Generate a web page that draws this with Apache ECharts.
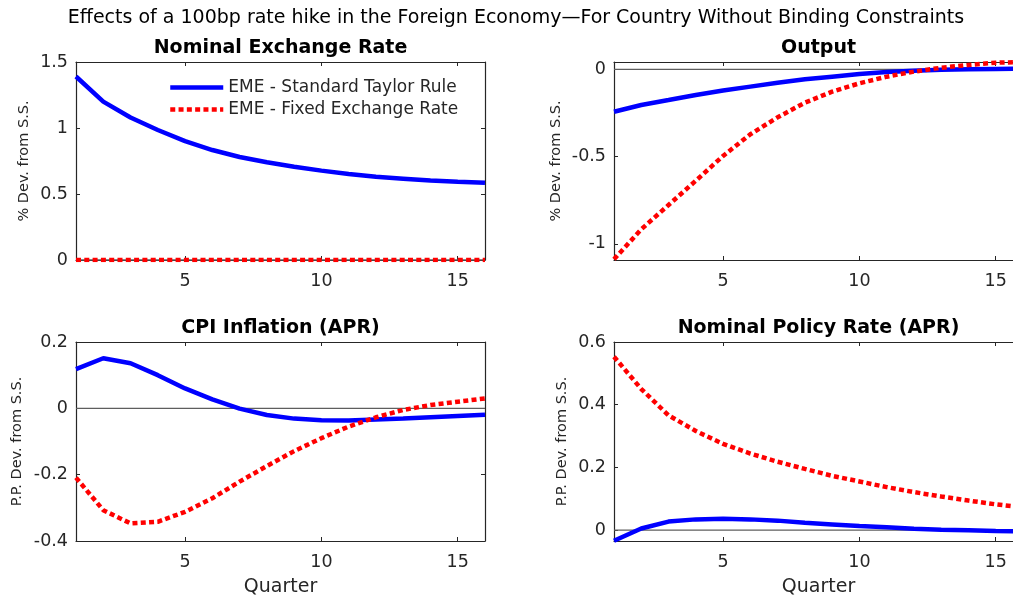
<!DOCTYPE html>
<html>
<head>
<meta charset="utf-8">
<script src="https://cdn.jsdelivr.net/npm/echarts@6/dist/echarts.min.js"></script>
<style>
  html, body { margin: 0; padding: 0; background: #fff; }
  #chart { width: 1013px; height: 596px; }
</style>
</head>
<body>
<div id="chart"></div>
<script>
// Impulse responses, quarters 1..16
const quarters = [1, 2, 3, 4, 5, 6, 7, 8, 9, 10, 11, 12, 13, 14, 15, 16];

// Nominal exchange rate (% dev. from S.S.)
const nerTaylor = [1.39, 1.20, 1.08, 0.985, 0.90, 0.833, 0.78, 0.74, 0.707, 0.677, 0.652, 0.63, 0.616, 0.602, 0.593, 0.585];
const nerFixed  = [0, 0, 0, 0, 0, 0, 0, 0, 0, 0, 0, 0, 0, 0, 0, 0];

// Output (% dev. from S.S.)
const outTaylor = [-0.243, -0.204, -0.176, -0.147, -0.121, -0.099, -0.077, -0.057, -0.042, -0.027, -0.015, -0.008, -0.003, 0.0, 0.002, 0.003];
const outFixed  = [-1.088, -0.916, -0.777, -0.638, -0.496, -0.372, -0.275, -0.191, -0.128, -0.080, -0.042, -0.013, 0.009, 0.025, 0.038, 0.042];

// CPI inflation, APR (p.p. dev. from S.S.)
const cpiTaylor = [0.118, 0.151, 0.136, 0.100, 0.060, 0.027, -0.001, -0.020, -0.031, -0.036, -0.037, -0.034, -0.031, -0.027, -0.023, -0.019];
const cpiFixed  = [-0.209, -0.307, -0.347, -0.342, -0.312, -0.271, -0.221, -0.174, -0.129, -0.090, -0.055, -0.027, -0.005, 0.010, 0.020, 0.030];

// Nominal policy rate, APR (p.p. dev. from S.S.)
const rateTaylor = [-0.034, 0.005, 0.027, 0.034, 0.036, 0.034, 0.030, 0.023, 0.018, 0.013, 0.009, 0.004, 0.001, -0.001, -0.003, -0.004];
const rateFixed  = [0.553, 0.450, 0.366, 0.316, 0.275, 0.244, 0.218, 0.195, 0.173, 0.155, 0.137, 0.121, 0.107, 0.094, 0.082, 0.072];

// Tick labels
const quarterTicks = [5, 10, 15];
const nerTicks = [0, 0.5, 1, 1.5];
const outTicks = [-1, -0.5, 0];
const cpiTicks = [-0.4, -0.2, 0, 0.2];
const rateTicks = [0, 0.2, 0.4, 0.6];

const nameTaylor = 'EME - Standard Taylor Rule';
const nameFixed = 'EME - Fixed Exchange Rate';

const FONT = '"DejaVu Sans", "Liberation Sans", Arial, sans-serif';
const AXIS_COLOR = '#262626';
const DOTS = [5, 3.3];

const panels = [
  { title: 'Nominal Exchange Rate', grid: { left: 76, top: 62, width: 409, height: 198 },
    yMin: 0, yMax: 1.5, ticks: nerTicks, taylor: nerTaylor, fixed: nerFixed,
    yName: '% Dev. from S.S.', yGap: 44, xName: '' },
  { title: 'Output', grid: { left: 614, top: 62, width: 409, height: 198 },
    yMin: -1.092, yMax: 0.042, ticks: outTicks, taylor: outTaylor, fixed: outFixed,
    yName: '% Dev. from S.S.', yGap: 50, xName: '' },
  { title: 'CPI Inflation (APR)', grid: { left: 76, top: 342, width: 409, height: 199 },
    yMin: -0.4, yMax: 0.2, ticks: cpiTicks, taylor: cpiTaylor, fixed: cpiFixed,
    yName: 'P.P. Dev. from S.S.', yGap: 51, xName: 'Quarter' },
  { title: 'Nominal Policy Rate (APR)', grid: { left: 614, top: 342, width: 409, height: 199 },
    yMin: -0.035, yMax: 0.6, ticks: rateTicks, taylor: rateTaylor, fixed: rateFixed,
    yName: 'P.P. Dev. from S.S.', yGap: 44, xName: 'Quarter' }
];

const pairs = (ys) => quarters.map((q, i) => [q, ys[i]]);

const grids = [], xAxes = [], yAxes = [], series = [], graphics = [];

panels.forEach((p, i) => {
  grids.push(Object.assign({ outerBoundsMode: 'none', containLabel: false }, p.grid));

  const tickStyle = { show: true, inside: true, length: 4, lineStyle: { color: AXIS_COLOR, width: 1 } };
  const lineStyle = { show: true, onZero: false, lineStyle: { color: AXIS_COLOR, width: 1.2 } };

  // bottom + top x axes (closed box with ticks on both sides)
  xAxes.push({
    type: 'value', gridIndex: i, min: 1, max: 16, position: 'bottom',
    axisLine: lineStyle,
    axisTick: Object.assign({ customValues: quarterTicks }, tickStyle),
    axisLabel: { customValues: quarterTicks, color: AXIS_COLOR, fontSize: 17.5, fontFamily: FONT, margin: 12 },
    splitLine: { show: false },
    name: p.xName, nameLocation: 'middle', nameGap: 37,
    nameTextStyle: { color: AXIS_COLOR, fontSize: 19, fontFamily: FONT }
  });
  xAxes.push({
    type: 'value', gridIndex: i, min: 1, max: 16, position: 'top',
    axisLine: lineStyle,
    axisTick: Object.assign({ customValues: quarterTicks }, tickStyle),
    axisLabel: { show: false }, splitLine: { show: false }
  });
  // left + right y axes
  yAxes.push({
    type: 'value', gridIndex: i, min: p.yMin, max: p.yMax, position: 'left',
    axisLine: lineStyle,
    axisTick: Object.assign({ customValues: p.ticks }, tickStyle),
    axisLabel: { customValues: p.ticks, color: AXIS_COLOR, fontSize: 17.5, fontFamily: FONT,
                 margin: 8, padding: [4, 0, 0, 0] },
    splitLine: { show: false },
    name: p.yName, nameLocation: 'middle', nameGap: p.yGap,
    nameTextStyle: { color: AXIS_COLOR, fontSize: 14.5, fontFamily: FONT }
  });
  yAxes.push({
    type: 'value', gridIndex: i, min: p.yMin, max: p.yMax, position: 'right',
    axisLine: lineStyle,
    axisTick: Object.assign({ customValues: p.ticks }, tickStyle),
    axisLabel: { show: false }, splitLine: { show: false }
  });

  const xi = i * 2, yi = i * 2;
  // zero reference line
  series.push({
    type: 'line', name: 'zero', xAxisIndex: xi, yAxisIndex: yi, silent: true,
    data: [[1, 0], [16, 0]], symbol: 'none',
    lineStyle: { color: '#5e5e5e', width: 1.3 }, z: 1
  });
  series.push({
    type: 'line', name: nameTaylor, xAxisIndex: xi, yAxisIndex: yi,
    data: pairs(p.taylor), symbol: 'none',
    lineStyle: { color: '#0000ff', width: 4.5 }, itemStyle: { color: '#0000ff' }, z: 2
  });
  series.push({
    type: 'line', name: nameFixed, xAxisIndex: xi, yAxisIndex: yi,
    data: pairs(p.fixed), symbol: 'none',
    lineStyle: { color: '#ff0000', width: 4.5, type: DOTS }, itemStyle: { color: '#ff0000' }, z: 3
  });

  graphics.push({
    type: 'text', x: p.grid.left + p.grid.width / 2, y: p.grid.top - 14,
    style: { text: p.title, align: 'center', verticalAlign: 'middle',
             font: 'bold 19px ' + FONT, fill: '#000' }
  });
});

graphics.push({
  type: 'text', x: 516, y: 18,
  style: { text: 'Effects of a 100bp rate hike in the Foreign Economy\u2014For Country Without Binding Constraints',
           align: 'center', verticalAlign: 'middle', font: '19px ' + FONT, fill: '#000' }
});

const chart = echarts.init(document.getElementById('chart'), null, { renderer: 'canvas' });
chart.setOption({
  backgroundColor: '#ffffff',
  animation: false,
  grid: grids,
  xAxis: xAxes,
  yAxis: yAxes,
  series: series,
  legend: {
    data: [nameTaylor, nameFixed],
    orient: 'vertical', left: 163, top: 74,
    itemWidth: 53, itemHeight: 12, itemGap: 5,
    itemStyle: { opacity: 0 },
    lineStyle: { width: 4.5 },
    textStyle: { color: AXIS_COLOR, fontSize: 17, fontFamily: FONT },
    selectedMode: false
  },
  graphic: graphics
});
</script>
</body>
</html>
